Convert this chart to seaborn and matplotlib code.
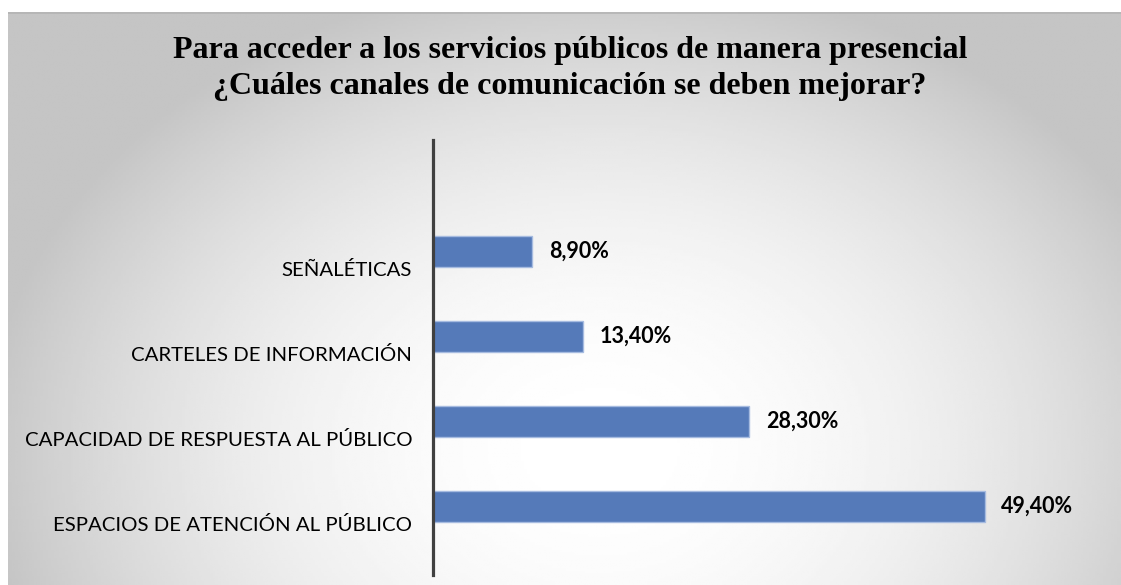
import numpy as np
import matplotlib.pyplot as plt
import matplotlib.transforms as mtransforms
import seaborn as sns

categorias = ["SEÑALÉTICAS", "CARTELES DE INFORMACIÓN",
              "CAPACIDAD DE RESPUESTA AL PÚBLICO", "ESPACIOS DE ATENCIÓN AL PÚBLICO"]
valores = [8.9, 13.4, 28.3, 49.4]
etiquetas = [f"{v:.2f}%".replace(".", ",") for v in valores]
titulo = ("Para acceder a los servicios públicos de manera presencial\n"
          "¿Cuáles canales de comunicación se deben mejorar?")

sns.set_theme(style="white")
plt.rcParams["font.family"] = ["Lato", "DejaVu Sans"]

W, H = 1121, 585
fig = plt.figure(figsize=(W / 100, H / 100), dpi=100)
fig.patch.set_facecolor("white")

# fondo con degradado radial (gris en los bordes, blanco al centro)
bg = fig.add_axes([8 / W, 0, 1 - 8 / W, 1 - 12 / H])
xx, yy = np.meshgrid(np.linspace(8, W, 400), np.linspace(12, H, 220))
d = np.sqrt(((xx - 600) / 620) ** 2 + ((yy - 450) / 480) ** 2)
g = 1 - 0.23 * np.clip(d, 0, 1) ** 2
bg.imshow(g, cmap="gray", vmin=0, vmax=1, aspect="auto", extent=[0, 1, 0, 1])
bg.axis("off")
bg.plot([0, 1], [0.999, 0.999], color="#b4b4b4", lw=1.2)

ax = fig.add_axes([433 / W, 1 - 575 / H, (1103 - 433) / W, (575 - 140) / H])
ax.patch.set_alpha(0)
sns.barplot(x=valores, y=categorias, orient="h", color="#557ab9", saturation=1,
            edgecolor="#a6bbe0", linewidth=1, width=0.365, ax=ax)
ax.set_xlim(0, 60)
ax.set_ylim(3.81, -1.31)
ax.bar_label(ax.containers[0], labels=etiquetas, padding=12,
             fontsize=15.5, fontweight="bold", color="black")

for s in ["top", "right", "bottom"]:
    ax.spines[s].set_visible(False)
ax.spines["left"].set_color("#404040")
ax.spines["left"].set_linewidth(2.3)
ax.set_xticks([])
ax.tick_params(axis="y", length=0, pad=15, labelsize=14.7, labelcolor="black")
ax.set_xlabel("")
ax.set_ylabel("")

# las etiquetas de categoría quedan un poco por debajo de cada barra
desplazar = mtransforms.ScaledTranslation(0, -0.17, fig.dpi_scale_trans)
for lab in ax.get_yticklabels():
    lab.set_transform(lab.get_transform() + desplazar)

fig.text(570 / W, 1 - 36 / H, titulo, ha="center", va="top",
         fontsize=23, fontweight="bold", family="Liberation Serif",
         linespacing=1.3, color="black")

fig.savefig("out.png", dpi=100)
